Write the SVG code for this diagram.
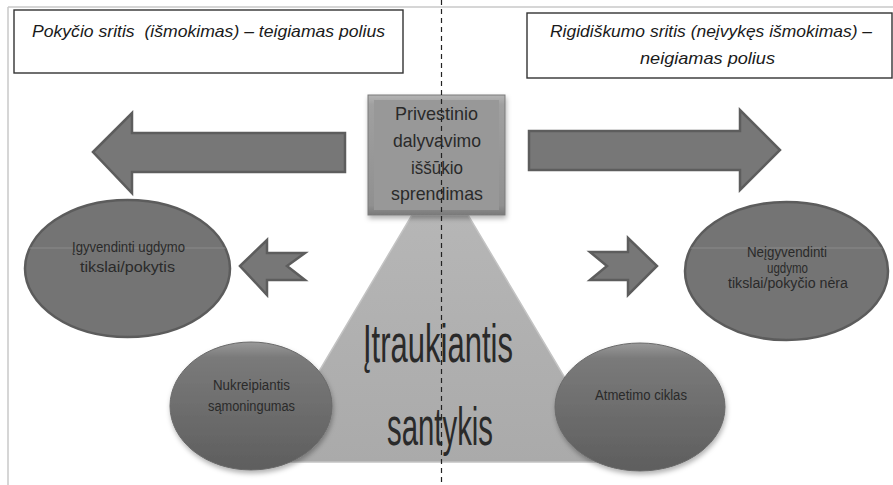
<svg xmlns="http://www.w3.org/2000/svg" width="893" height="485" viewBox="0 0 893 485">
  <style>
    .lbl { font-family: "Liberation Sans", "DejaVu Sans", sans-serif; fill: #2a2a2a; text-anchor: start; }
    .cap { font-family: "Liberation Sans", "DejaVu Sans", sans-serif; font-style: italic; fill: #1a1a1a; }
    .arrow { fill: #777777; stroke: #5d5d5d; stroke-width: 2.5; stroke-linejoin: miter; }
    .oval { fill: #747474; stroke: #5c5c5c; stroke-width: 2.5; }
    .capbox { fill: #ffffff; stroke: #333333; stroke-width: 1.4; }
  </style>
  <defs>
    <linearGradient id="boxGrad" x1="0" y1="0" x2="0" y2="1">
      <stop offset="0" stop-color="#b4b4b4"/>
      <stop offset="0.08" stop-color="#a0a0a0"/>
      <stop offset="0.92" stop-color="#909090"/>
      <stop offset="1" stop-color="#7a7a7a"/>
    </linearGradient>
    <linearGradient id="ballGrad" x1="0" y1="0" x2="0" y2="1">
      <stop offset="0" stop-color="#9a9a9a"/>
      <stop offset="0.12" stop-color="#7a7a7a"/>
      <stop offset="1" stop-color="#5e5e5e"/>
    </linearGradient>
    <linearGradient id="trapGrad" x1="0" y1="0" x2="0" y2="1">
      <stop offset="0" stop-color="#b6b6b6"/>
      <stop offset="1" stop-color="#aaaaaa"/>
    </linearGradient>
    <filter id="shadow" x="-20%" y="-20%" width="140%" height="150%">
      <feDropShadow dx="1" dy="3" stdDeviation="2.5" flood-color="#000" flood-opacity="0.3"/>
    </filter>
    <clipPath id="clipL"><ellipse cx="127.5" cy="268.5" rx="102.5" ry="68.5"/></clipPath>
    <clipPath id="clipR"><ellipse cx="786.5" cy="271" rx="101.5" ry="69"/></clipPath>
  </defs>

  <rect width="893" height="485" fill="#ffffff"/>
  <!-- page frame -->
  <line x1="8" y1="7" x2="893" y2="7" stroke="#c8c8c8" stroke-width="1.5"/>
  <line x1="8" y1="7" x2="8" y2="485" stroke="#c8c8c8" stroke-width="1.5"/>

  <!-- pole captions -->
  <g id="pole-positive">
    <rect class="capbox" x="14" y="10" width="389" height="63"/>
    <text class="cap" x="32" y="37" font-size="17" textLength="353" lengthAdjust="spacingAndGlyphs">Pokyčio sritis&#160; (išmokimas) – teigiamas polius</text>
  </g>
  <g id="pole-negative">
    <rect class="capbox" x="527" y="13" width="365" height="65"/>
    <text class="cap" x="550" y="37" font-size="17" textLength="322" lengthAdjust="spacingAndGlyphs">Rigidiškumo sritis (neįvykęs išmokimas) –</text>
    <text class="cap" x="640" y="64" font-size="17" textLength="135" lengthAdjust="spacingAndGlyphs">neigiamas polius</text>
  </g>

  <!-- central relationship -->
  <g id="relationship">
    <polygon points="412,215 468,215 615,462 265,462" fill="url(#trapGrad)" stroke="#c4c4c4" stroke-width="1.5"/>
    <text class="lbl" x="363" y="362" font-size="53" fill="#222" textLength="150" lengthAdjust="spacingAndGlyphs">Įtraukiantis</text>
    <text class="lbl" x="387" y="445" font-size="53" fill="#222" textLength="106" lengthAdjust="spacingAndGlyphs">santykis</text>
  </g>

  <g id="challenge">
    <rect x="368" y="95" width="137" height="120" fill="url(#boxGrad)" stroke="#7a7a7a" stroke-width="1" filter="url(#shadow)"/>
    <rect x="374" y="100" width="125" height="110" fill="#989898"/>
    <text class="lbl" x="395" y="120" font-size="19" textLength="83" lengthAdjust="spacingAndGlyphs">Privestinio</text>
    <text class="lbl" x="393" y="147" font-size="19" textLength="88" lengthAdjust="spacingAndGlyphs">dalyvavimo</text>
    <text class="lbl" x="411" y="174" font-size="19" textLength="52" lengthAdjust="spacingAndGlyphs">iššūkio</text>
    <text class="lbl" x="391" y="200" font-size="19" textLength="92" lengthAdjust="spacingAndGlyphs">sprendimas</text>
  </g>

  <!-- outcomes -->
  <g id="outcome-positive">
    <ellipse class="oval" cx="127.5" cy="268.5" rx="102.5" ry="68.5"/>
    <line x1="20" y1="248" x2="235" y2="248" stroke="#8a8a8a" stroke-width="1" clip-path="url(#clipL)"/>
    <text class="lbl" x="72" y="252" font-size="14" textLength="113" lengthAdjust="spacingAndGlyphs">Įgyvendinti ugdymo</text>
    <text class="lbl" x="80" y="272" font-size="14" textLength="95" lengthAdjust="spacingAndGlyphs">tikslai/pokytis</text>
  </g>
  <g id="outcome-negative">
    <ellipse class="oval" cx="786.5" cy="271" rx="101.5" ry="69"/>
    <line x1="680" y1="248" x2="893" y2="248" stroke="#8a8a8a" stroke-width="1" clip-path="url(#clipR)"/>
    <text class="lbl" x="747" y="257" font-size="14" textLength="80" lengthAdjust="spacingAndGlyphs">Neįgyvendinti</text>
    <text class="lbl" x="767" y="273" font-size="14" textLength="41" lengthAdjust="spacingAndGlyphs">ugdymo</text>
    <text class="lbl" x="728" y="288" font-size="14" textLength="120" lengthAdjust="spacingAndGlyphs">tikslai/pokyčio nėra</text>
  </g>

  <!-- side factors -->
  <g id="redirecting-awareness">
    <ellipse cx="251" cy="406" rx="81" ry="64" fill="url(#ballGrad)" stroke="#6a6a6a" stroke-width="1" filter="url(#shadow)"/>
    <text class="lbl" x="213" y="390" font-size="14" textLength="77" lengthAdjust="spacingAndGlyphs">Nukreipiantis</text>
    <text class="lbl" x="208" y="411" font-size="14" textLength="87" lengthAdjust="spacingAndGlyphs">sąmoningumas</text>
  </g>
  <g id="rejection-cycle">
    <ellipse cx="640" cy="407" rx="85" ry="64" fill="url(#ballGrad)" stroke="#6a6a6a" stroke-width="1" filter="url(#shadow)"/>
    <text class="lbl" x="595" y="400" font-size="14" textLength="92" lengthAdjust="spacingAndGlyphs">Atmetimo ciklas</text>
  </g>

  <!-- direction arrows -->
  <g id="connectors">
    <polygon class="arrow" points="93,152 132,113 132,133 345,133 345,172 132,172 132,193"/>
    <polygon class="arrow" points="529,131 740,131 740,110 780,150 740,190 740,170 529,170"/>
    <polygon class="arrow" points="240,266 267,240 267,253 305,253 287,266 305,280 267,280 267,295"/>
    <polygon class="arrow" points="590,252 628,252 628,238 657,266 628,295 628,280 590,280 607,266"/>
  </g>

  <!-- axis between poles -->
  <line x1="441.5" y1="0" x2="441.5" y2="485" stroke="#222" stroke-width="1.2" stroke-dasharray="5,4"/>
</svg>
